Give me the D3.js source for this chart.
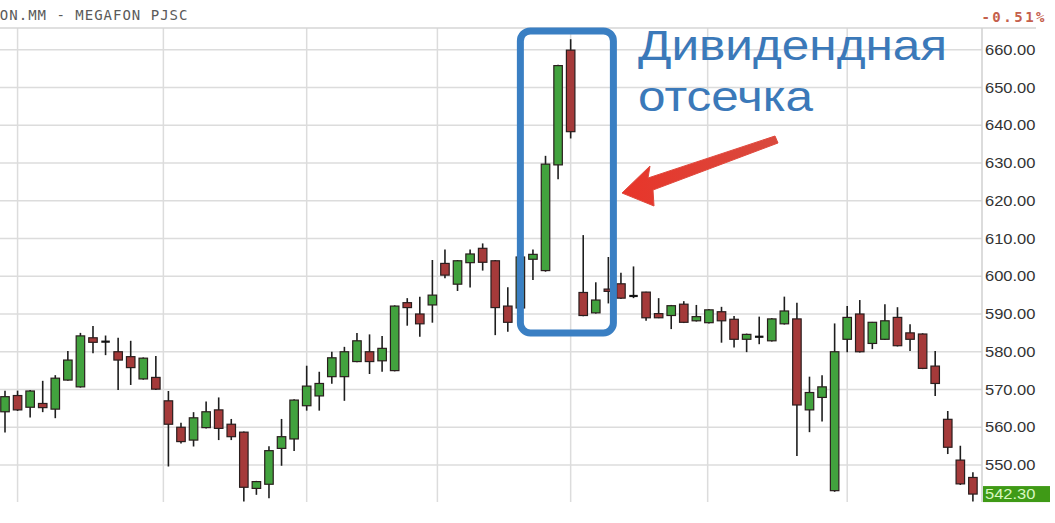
<!DOCTYPE html>
<html>
<head>
<meta charset="utf-8">
<script src="https://cdn.jsdelivr.net/npm/d3@7"></script>
<style>
  html, body { margin: 0; padding: 0; background: #fff; overflow: hidden; }
</style>
</head>
<body>
<div id="chart"></div>
<script>
let WIDTH = 1055;
let HEIGHT = 523;

// OHLC, one value per trading day
const opens = [564.1, 568.4, 565.3, 566.3, 564.8, 572.5, 570.7, 583.7, 582.7, 580.0,
  578.7, 572.8, 573.2, 567.0, 560.0, 556.6, 559.9, 564.6, 560.8, 558.7,
  543.8, 544.9, 554.4, 556.9, 565.7, 568.3, 573.4, 573.4, 577.4, 580.0,
  577.6, 575.0, 593.0, 590.0, 592.4, 603.4, 597.9, 603.6, 607.4, 604.1,
  592.1, 591.6, 604.5, 601.5, 629.5, 659.9, 595.7, 590.3, 596.6, 598.0,
  594.8, 595.8, 590.1, 589.6, 592.6, 588.2, 587.7, 590.6, 588.6, 583.3,
  584.0, 582.9, 587.4, 588.7, 564.6, 567.9, 543.2, 583.3, 590.0, 582.2,
  583.3, 589.1, 585.0, 584.7, 576.2, 562.1, 551.3, 546.7];
const highs = [569.7, 569.7, 569.9, 572.3, 573.8, 580.2, 585.0, 586.8, 584.3, 583.7,
  582.9, 578.5, 578.9, 569.6, 561.2, 564.0, 566.8, 567.9, 562.2, 558.9,
  545.8, 555.0, 562.2, 567.4, 576.3, 574.7, 580.0, 581.3, 585.0, 584.6,
  584.2, 592.3, 594.2, 594.6, 604.3, 607.1, 604.3, 607.1, 608.7, 604.3,
  597.1, 605.3, 607.1, 631.9, 656.0, 662.8, 610.9, 598.4, 605.1, 600.9,
  602.6, 595.9, 594.2, 592.4, 593.4, 592.4, 591.3, 591.9, 589.5, 584.8,
  589.3, 588.9, 594.6, 593.0, 573.4, 573.8, 587.5, 592.1, 593.7, 587.9,
  592.6, 591.8, 587.3, 584.9, 580.2, 564.3, 555.1, 548.1];
const lows = [558.6, 564.3, 562.6, 564.0, 562.4, 572.3, 570.5, 579.6, 579.1, 569.9,
  571.2, 572.6, 569.9, 549.6, 555.7, 554.9, 559.7, 556.6, 556.6, 540.3,
  542.1, 541.2, 549.8, 553.7, 564.4, 564.4, 571.5, 567.0, 577.2, 574.1,
  574.7, 574.8, 586.9, 584.0, 587.7, 599.5, 596.1, 597.0, 601.5, 584.4,
  585.3, 591.4, 599.0, 601.2, 625.7, 636.5, 589.4, 590.1, 592.8, 594.0,
  594.2, 588.2, 588.9, 586.0, 587.6, 588.0, 587.5, 582.4, 581.1, 579.9,
  582.0, 582.7, 587.2, 552.4, 558.7, 561.5, 542.9, 579.9, 579.8, 580.7,
  583.1, 581.4, 580.2, 575.4, 568.3, 552.9, 544.7, 540.3];
const closes = [568.1, 564.6, 569.6, 565.2, 573.0, 577.8, 584.2, 582.5, 582.7, 577.8,
  575.8, 578.3, 570.1, 560.8, 556.2, 562.5, 564.1, 559.7, 557.5, 544.1,
  545.6, 553.8, 557.5, 567.2, 570.9, 571.6, 578.4, 580.0, 582.9, 577.4,
  580.9, 592.1, 591.7, 587.4, 595.0, 600.3, 604.1, 605.9, 603.7, 591.7,
  587.8, 605.1, 605.8, 629.7, 655.8, 638.3, 589.6, 593.7, 596.0, 594.2,
  594.8, 589.0, 589.0, 592.2, 587.8, 589.3, 591.1, 588.2, 583.3, 584.6,
  584.0, 588.7, 590.8, 565.9, 569.2, 570.7, 580.0, 589.1, 580.0, 587.8,
  588.2, 581.6, 583.3, 575.6, 571.6, 554.7, 545.0, 542.3];

const priceTicks = [550, 560, 570, 580, 590, 600, 610, 620, 630, 640, 650, 660];
// vertical grid lines, in candle-index units
const dateGrid = [1, 12.6, 24, 34.4, 45, 55.9, 67];

const titleText = 'MFON.MM - MEGAFON PJSC';
const changeText = '-0.51%';
const lastPrice = 542.30;
const noteLines = ['Дивидендная', 'отсечка'];
// box around the dividend days: candle index range and price range
const boxIdx = [41, 48.4];
const boxPrice = [585, 665];

const candles = opens.map((o, i) => ({ i: i, o: o, h: highs[i], l: lows[i], c: closes[i] }));

const PLOT = { left: 0, right: 982, top: 28, bottom: 502 };
const TXT_STRETCH = 1.18;

const svg = d3.select('#chart').append('svg')
  .attr('width', WIDTH).attr('height', HEIGHT);

const x = d3.scaleLinear().domain([0, candles.length - 1]).range([5, 972.9]);
const y = d3.scaleLinear().domain([550, 660]).range([465, 49.75]);

// GRID
const g_grid = svg.append('g').attr('id', 'grid');
g_grid.selectAll('line.h').data(priceTicks).join('line').attr('class', 'h')
  .attr('x1', PLOT.left).attr('x2', PLOT.right)
  .attr('y1', d => y(d)).attr('y2', d => y(d))
  .attr('stroke', '#dcdcdc').attr('stroke-width', 1.5);
g_grid.selectAll('line.v').data(dateGrid).join('line').attr('class', 'v')
  .attr('x1', d => x(d)).attr('x2', d => x(d))
  .attr('y1', PLOT.top).attr('y2', PLOT.bottom)
  .attr('stroke', '#dcdcdc').attr('stroke-width', 1.5);
// frame top + right
g_grid.append('line').attr('x1', PLOT.left).attr('x2', 1036)
  .attr('y1', PLOT.top).attr('y2', PLOT.top)
  .attr('stroke', '#d6d6d6').attr('stroke-width', 1.5);
g_grid.append('line').attr('x1', PLOT.right).attr('x2', PLOT.right)
  .attr('y1', PLOT.top).attr('y2', PLOT.bottom)
  .attr('stroke', '#d0d0d0').attr('stroke-width', 1.5);

// RIGHT AXIS LABELS
const g_axis = svg.append('g').attr('id', 'axis');
g_axis.selectAll('text').data(priceTicks).join('text')
  .text(d => d.toFixed(2))
  .attr('transform', d => `translate(985, ${y(d) + 5}) scale(${TXT_STRETCH}, 1)`)
  .attr('font-family', 'Liberation Sans, Arial, sans-serif').attr('font-size', 14)
  .attr('fill', '#333');

// last price badge
g_axis.append('rect').attr('x', 983).attr('y', y(lastPrice) - 8)
  .attr('width', 67).attr('height', 16).attr('fill', '#3f9a16');
g_axis.append('text').text(lastPrice.toFixed(2))
  .attr('transform', `translate(985, ${y(lastPrice) + 5}) scale(${TXT_STRETCH}, 1)`)
  .attr('font-family', 'Liberation Sans, Arial, sans-serif').attr('font-size', 14)
  .attr('fill', '#d8f7c0');

// CANDLES
const BODY_W = 8.5;
const g_candles = svg.append('g').attr('id', 'candles');
const cg = g_candles.selectAll('g').data(candles).join('g');

cg.append('line')
  .attr('x1', d => x(d.i)).attr('x2', d => x(d.i))
  .attr('y1', d => y(d.h)).attr('y2', d => y(d.l))
  .attr('stroke', '#1e1e1e').attr('stroke-width', 1.6);

cg.filter(d => Math.abs(d.o - d.c) >= 0.3).append('rect')
  .attr('x', d => x(d.i) - BODY_W / 2)
  .attr('y', d => y(Math.max(d.o, d.c)))
  .attr('width', BODY_W)
  .attr('height', d => Math.max(2, y(Math.min(d.o, d.c)) - y(Math.max(d.o, d.c))))
  .attr('fill', d => d.c > d.o ? '#42a23e' : '#a53a3a')
  .attr('stroke', '#2a1e1e').attr('stroke-width', 1.2);

cg.filter(d => Math.abs(d.o - d.c) < 0.3).append('rect')
  .attr('x', d => x(d.i) - BODY_W / 2)
  .attr('y', d => y(d.c) - 1)
  .attr('width', BODY_W).attr('height', 2.2)
  .attr('fill', '#111');

// TITLE / CHANGE
svg.append('text').text(titleText)
  .attr('x', -19).attr('y', 20)
  .attr('font-family', 'DejaVu Sans Mono, monospace').attr('font-size', 14)
  .attr('letter-spacing', 1).attr('fill', '#5a5a5a');

svg.append('text').text(changeText)
  .attr('x', 1047).attr('y', 22).attr('text-anchor', 'end')
  .attr('font-family', 'DejaVu Sans Mono, monospace').attr('font-size', 14)
  .attr('font-weight', 'bold').attr('letter-spacing', 2.5).attr('fill', '#c5604c');

// ANNOTATION
const g_note = svg.append('g').attr('id', 'note');
g_note.append('rect')
  .attr('x', x(boxIdx[0])).attr('y', y(boxPrice[1]))
  .attr('width', x(boxIdx[1]) - x(boxIdx[0]))
  .attr('height', y(boxPrice[0]) - y(boxPrice[1]))
  .attr('rx', 10).attr('ry', 10)
  .attr('fill', 'none').attr('stroke', '#3a7fc3').attr('stroke-width', 7);

g_note.selectAll('text').data(noteLines).join('text')
  .text(d => d)
  .attr('transform', (d, i) => `translate(638, ${60 + i * 51}) scale(1.15, 1)`)
  .attr('font-family', 'Liberation Sans, Arial, sans-serif').attr('font-size', 43)
  .attr('fill', '#3b79b9');

const defs = svg.append('defs');
const grad = defs.append('linearGradient').attr('id', 'arrowGrad')
  .attr('x1', '0%').attr('y1', '0%').attr('x2', '100%').attr('y2', '0%');
grad.append('stop').attr('offset', '0%').attr('stop-color', '#e8352a');
grad.append('stop').attr('offset', '100%').attr('stop-color', '#d84a3e');

g_note.append('path')
  .attr('d', 'M622,193 L650,166 L648,178 L775,136 L778,143 L653,190 L654,206 Z')
  .attr('fill', 'url(#arrowGrad)').attr('stroke', '#e0483c').attr('stroke-width', 1)
  .attr('stroke-linejoin', 'round');
</script>
</body>
</html>
